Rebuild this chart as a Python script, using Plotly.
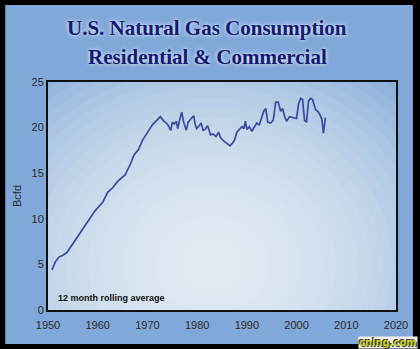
import plotly.graph_objects as go

years = [1950.8, 1951.5, 1952.2, 1953.0, 1953.8, 1955.0, 1956.5, 1958.0, 1959.5, 1961.0,
         1962.0, 1963.0, 1964.0, 1965.5, 1966.5, 1967.3, 1968.2, 1969.0, 1970.0, 1971.0,
         1972.6, 1973.3, 1974.0, 1974.4, 1974.7, 1975.0, 1975.4, 1975.8, 1976.1, 1976.5,
         1976.9, 1977.3, 1977.8, 1978.2, 1978.7, 1979.3, 1979.6, 1979.9, 1980.4, 1980.8,
         1981.2, 1981.6, 1982.1, 1982.7, 1983.2, 1983.8, 1984.3, 1984.7, 1985.2, 1985.7,
         1986.2, 1986.6, 1987.1, 1987.5, 1988.0, 1988.5, 1989.0, 1989.4, 1989.7, 1990.0,
         1990.5, 1991.0, 1991.5, 1992.0, 1992.5, 1993.0, 1993.4, 1993.8, 1994.2, 1994.8,
         1995.3, 1995.8, 1996.3, 1996.8, 1997.2, 1997.6, 1998.0, 1998.6, 1999.4, 2000.0,
         2000.4, 2000.8, 2001.2, 2001.6, 2002.0, 2002.4, 2002.8, 2003.2, 2003.8, 2004.4,
         2004.8, 2005.1, 2005.4, 2005.8]
bcfd = [4.4, 5.3, 5.8, 6.0, 6.3, 7.3, 8.5, 9.8, 10.9, 11.8,
        12.9, 13.4, 14.1, 14.8, 15.9, 17.0, 17.6, 18.6, 19.5, 20.3,
        21.2, 20.7, 20.4, 20.0, 19.7, 20.6, 20.4, 20.7, 19.9, 20.9,
        21.7, 20.6, 19.7, 20.6, 20.9, 21.3, 20.4, 19.9, 20.2, 20.5,
        19.7, 19.8, 20.2, 19.2, 19.3, 19.0, 19.5, 18.9, 18.6, 18.4,
        18.2, 18.0, 18.3, 18.6, 19.5, 19.8, 20.1, 19.9, 20.7, 19.8,
        20.1, 19.6, 20.0, 20.5, 20.3, 21.2, 21.8, 22.1, 20.6, 20.5,
        20.8, 22.8, 22.8, 21.8, 22.1, 21.2, 20.7, 21.2, 21.1, 21.0,
        22.6, 23.2, 23.1, 20.8, 20.6, 22.9, 23.2, 23.1, 22.0, 21.7,
        21.3, 20.9, 19.4, 21.1]

x_ticks = [1950, 1960, 1970, 1980, 1990, 2000, 2010, 2020]
y_ticks = [0, 5, 10, 15, 20, 25]

title_lines = ["U.S. Natural Gas Consumption", "Residential &amp; Commercial"]

fig = go.Figure()
fig.add_trace(go.Scatter(x=years, y=bcfd, mode="lines",
                         line=dict(color="#3a4aa0", width=1.7), hoverinfo="skip"))

L, R, T, B = 48, 398, 82, 310
W, H = 420, 349
pw, ph = R - L, B - T

def px(x):
    return (x - L) / pw

def py(y):
    return (B - y) / ph

shapes = [dict(type="rect", xref="paper", yref="paper", layer="below",
               x0=px(5), x1=px(415), y0=py(344), y1=py(5),
               fillcolor="#80a8d8", line=dict(width=0))]

# smooth radial glow inside plot area (clipped to plot)
cx, cy = 1983, 5
n = 24
for i in range(n):
    f = 1 - i / n
    rx, ry = 55 * f + 2, 26 * f + 1
    shapes.append(dict(type="circle", xref="x", yref="y", layer="below",
                       x0=cx - rx, x1=cx + rx, y0=cy - ry, y1=cy + ry,
                       fillcolor="white", opacity=0.07, line=dict(width=0)))

tf = dict(family="Liberation Sans, Arial", size=11, color="#2a2a2a")
title_font = dict(family="Liberation Serif, Times New Roman", size=21, color="#121a72",
                  weight="bold", shadow="0px 0px 4px #ffffff")

fig.update_layout(
    width=W, height=H,
    margin=dict(l=L, r=W - R, t=T, b=H - B),
    paper_bgcolor="#000000",
    plot_bgcolor="#aac3e5",
    showlegend=False,
    shapes=shapes,
    xaxis=dict(range=[1950, 2020], tickvals=x_ticks, showgrid=False, zeroline=False,
               showline=True, mirror=True, linecolor="#111", linewidth=2,
               ticks="", tickfont=tf, ticklabelstandoff=4),
    yaxis=dict(range=[0, 25], tickvals=y_ticks, showgrid=False, zeroline=False,
               showline=True, mirror=True, linecolor="#111", linewidth=2,
               ticks="", tickfont=tf,
               title=dict(text="Bcfd", font=tf, standoff=8)),
    annotations=[
        dict(text=title_lines[0], xref="paper", yref="paper", x=px(208), y=py(28),
             xanchor="center", yanchor="middle", showarrow=False, font=title_font),
        dict(text=title_lines[1], xref="paper", yref="paper", x=px(208), y=py(57),
             xanchor="center", yanchor="middle", showarrow=False, font=title_font),
        dict(text="<b>12 month rolling average</b>", xref="paper", yref="paper",
             x=px(56), y=py(298), xanchor="left", yanchor="middle", showarrow=False,
             font=dict(family="Liberation Sans, Arial", size=9, color="#111")),
        dict(text="<b>cnlng.com</b>", xref="paper", yref="paper",
             x=px(420), y=py(349), xanchor="right", yanchor="bottom", showarrow=False,
             bgcolor="#f4f4ee", borderpad=0,
             font=dict(family="DejaVu Sans", size=10, color="#c8d020",
                       shadow="1px 1px 0px #333, -1px -1px 0px #333")),
    ],
)

fig.write_html("out.html")
